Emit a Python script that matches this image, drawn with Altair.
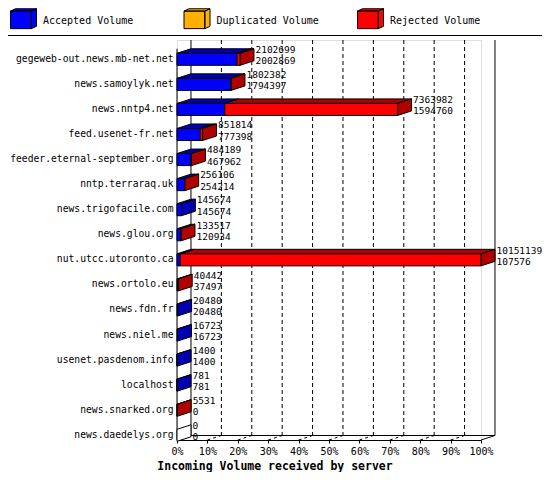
import altair as alt
import pandas as pd

# ---------------- data ----------------
hosts = ["gegeweb-out.news.mb-net.net", "news.samoylyk.net", "news.nntp4.net",
         "feed.usenet-fr.net", "feeder.eternal-september.org", "nntp.terraraq.uk",
         "news.trigofacile.com", "news.glou.org", "nut.utcc.utoronto.ca",
         "news.ortolo.eu", "news.fdn.fr", "news.niel.me", "usenet.pasdenom.info",
         "localhost", "news.snarked.org", "news.daedelys.org"]
offered = [2102699, 1802382, 7363982, 851814, 484189, 256106, 145674, 133517,
           10151139, 40442, 20480, 16723, 1400, 781, 5531, 0]
accepted = [2002869, 1794397, 1594760, 777398, 467962, 254214, 145674, 120934,
            107576, 37497, 20480, 16723, 1400, 781, 0, 0]
duplicated = [0, 0, 0, 0, 0, 0, 0, 0, 0, 0, 0, 0, 0, 0, 0, 0]

series = ["Accepted Volume", "Duplicated Volume", "Rejected Volume"]
front_colors = ["#0000FF", "#FFB000", "#FF0000"]
dark_colors = ["#0000B0", "#B07800", "#B00000"]
tick_values = [0, 10, 20, 30, 40, 50, 60, 70, 80, 90, 100]
x_title = "Incoming Volume received by server"

# ---------------- style constants ----------------
FONT = "DejaVu Sans Mono"
DX = 4.6      # 3D depth, in percent units
DY = 0.18     # 3D depth, in row units
HALF = 0.24   # half height of a bar front face, in row units
Y_TOP = -0.77
Y_FLOOR = 15.186

vmax = max(offered)
fronts, tops, sides, labels = [], [], [], []
for i, h in enumerate(hosts):
    rej = offered[i] - accepted[i] - duplicated[i]
    vals = [accepted[i], duplicated[i], rej]
    start = 0.0
    last = (0.0, "white")
    for k, v in enumerate(vals):
        if v <= 0:
            continue
        end = start + v / vmax * 100
        fronts.append(dict(x0=start, x1=end, yt=i - HALF, yb=i + HALF, series=series[k]))
        fid = f"{i}-{k}"
        tops.append(dict(fid=fid, y=i - HALF, xa=start, xb=end, c=dark_colors[k]))
        tops.append(dict(fid=fid, y=i - HALF - DY, xa=start + DX, xb=end + DX, c=dark_colors[k]))
        last = (end, dark_colors[k])
        start = end
    xe, c = last
    sides.append(dict(fid=str(i), x=xe, ya=i - HALF, yb=i + HALF, c=c))
    sides.append(dict(fid=str(i), x=xe + DX, ya=i - HALF - DY, yb=i + HALF - DY, c=c))
    labels.append(dict(x=xe + DX, y=i - 0.37, t=str(offered[i])))
    labels.append(dict(x=xe + DX, y=i + 0.08, t=str(accepted[i])))

grid = pd.DataFrame([dict(x=p + DX, y=Y_TOP, y2=Y_FLOOR - DY) for p in tick_values[1:-1]])
walls = pd.DataFrame([dict(x=p + DX, y=Y_TOP, y2=Y_FLOOR - DY) for p in (0, 100)]
                     + [dict(x=0, y=-HALF - DY, y2=Y_FLOOR)])
floor = pd.DataFrame([dict(x=DX, x2=100 + DX, y=Y_FLOOR - DY, y2=Y_FLOOR - DY)]
                     + [dict(x=p, x2=p + DX, y=Y_FLOOR, y2=Y_FLOOR - DY) for p in (0, 100)])
diag = pd.DataFrame([dict(x=p, x2=p + DX, y=Y_FLOOR, y2=Y_FLOOR - DY) for p in tick_values[1:-1]])

XS = alt.Scale(domain=[0, 100], nice=False, zero=False)
YS = alt.Scale(domain=[Y_TOP, Y_FLOOR], nice=False, zero=False, reverse=True)

label_js = "[" + ",".join("'" + h + "'" for h in hosts) + "]"

x_axis = alt.Axis(
    values=tick_values, labelExpr="datum.value + '%'", tickSize=3, tickColor="black",
    domainColor="black", labelFont=FONT, labelFontSize=10, labelColor="black",
    labelPadding=3, labelFlush=False, labelOverlap=False, labelBound=False, grid=False,
    title=x_title, titleFont=FONT, titleFontSize=11.5, titleFontWeight="bold",
    titleColor="black", titleX=97.5, titleY=29, titleBaseline="alphabetic",
    titleAlign="center", titleAnchor="start")
y_axis = alt.Axis(
    values=list(range(len(hosts))), labelExpr=label_js + "[datum.value]",
    ticks=False, domain=False, grid=False, labelFont=FONT, labelFontSize=9.7,
    labelColor="black", labelPadding=4, labelFlush=False, labelOverlap=False,
    labelBound=False, labelOffset=-1, title=None)


def X(f, **kw):
    return alt.X(f, type="quantitative", scale=XS, axis=x_axis, **kw)


def Y(f, **kw):
    return alt.Y(f, type="quantitative", scale=YS, axis=y_axis, **kw)


grid_layer = alt.Chart(grid).mark_rule(color="black", strokeDash=[4, 3], strokeWidth=1).encode(
    x=X("x"), y=Y("y"), y2="y2")
wall_layer = alt.Chart(walls).mark_rule(color="black", strokeWidth=1).encode(
    x=X("x"), y=Y("y"), y2="y2")
floor_layer = alt.Chart(floor).mark_rule(color="black", strokeWidth=1).encode(
    x=X("x"), x2="x2", y=Y("y"), y2="y2")
diag_layer = alt.Chart(diag).mark_rule(color="black", strokeDash=[3, 3], strokeWidth=1).encode(
    x=X("x"), x2="x2", y=Y("y"), y2="y2")

top_layer = alt.Chart(pd.DataFrame(tops)).mark_area(
    orient="horizontal", stroke="black", strokeWidth=1, interpolate="linear").encode(
    y=Y("y"), x=X("xa", stack=None), x2="xb",
    detail="fid:N", fill=alt.Fill("c:N", scale=None))
side_layer = alt.Chart(pd.DataFrame(sides)).mark_area(
    orient="vertical", stroke="black", strokeWidth=1, interpolate="linear").encode(
    x=X("x"), y=Y("ya", stack=None), y2="yb",
    detail="fid:N", fill=alt.Fill("c:N", scale=None))

cube = ("M-1,-0.75L0.6,-0.75L0.6,0.6L-1,0.6Z"
        "M-1,-0.75L-0.62,-0.93L1,-0.93L0.6,-0.75Z"
        "M0.6,-0.75L1,-0.93L1,0.42L0.6,0.6Z")

front_layer = alt.Chart(pd.DataFrame(fronts)).mark_rect(stroke="black", strokeWidth=1).encode(
    x=X("x0", stack=None), x2="x1",
    y=Y("yt"), y2="yb",
    fill=alt.Fill("series:N", scale=alt.Scale(domain=series, range=front_colors),
                  legend=alt.Legend(
                      orient="none", legendX=-167, legendY=-33, direction="horizontal",
                      title=None, symbolType=cube, symbolSize=676,
                      symbolStrokeColor="black", symbolStrokeWidth=1, symbolOpacity=1,
                      labelFont=FONT, labelFontSize=10, labelColor="black",
                      labelOffset=6, columnPadding=35.5, gridAlign="all")))

text_layer = alt.Chart(pd.DataFrame(labels)).mark_text(
    align="left", baseline="middle", dx=1.5, font=FONT, fontSize=9.5, color="black").encode(
    x=X("x"), y=Y("y"), text="t:N")

one = pd.DataFrame([{"k": 1}])
separator = alt.Chart(one).mark_rule(color="black", strokeWidth=1).encode(
    x=alt.value(-169), x2=alt.value(365), y=alt.value(-4.5))

chart = alt.layer(
    grid_layer, wall_layer, floor_layer, diag_layer,
    top_layer, side_layer, front_layer, text_layer, separator
).properties(
    width=304, height=400,
    autosize=alt.AutoSizeParams(type="none"),
    padding={"left": 169, "top": 32, "right": 61, "bottom": 32},
).resolve_scale(fill="independent").configure_view(stroke=None).configure(background="white")

chart.save("out.html", embed_options={"renderer": "svg", "actions": False})
